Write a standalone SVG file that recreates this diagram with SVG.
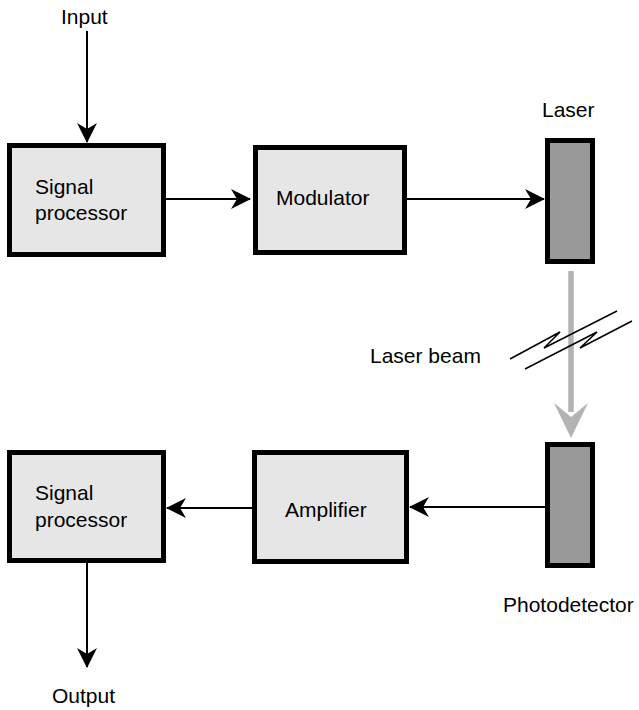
<svg xmlns="http://www.w3.org/2000/svg" width="639" height="710" viewBox="0 0 639 710">
<style>
.box{fill:#e6e6e6;stroke:#000;stroke-width:5}
.dev{fill:#999;stroke:#000;stroke-width:5}
.t{font-family:"Liberation Sans",Arial,sans-serif;font-size:21px;fill:#000}
.c{stroke:#000;stroke-width:2;fill:none}
.brk{stroke:#000;stroke-width:1.5;fill:none;stroke-linejoin:miter}
</style>
<defs>
<marker id="ah" viewBox="0 0 20 20" refX="19" refY="10" markerWidth="20" markerHeight="20" markerUnits="userSpaceOnUse" orient="auto">
<path d="M0,0 L20,10 L0,20 L6,10 Z" fill="#000"/>
</marker>
</defs>
<rect width="639" height="710" fill="#fff"/>
<g id="connectors">
<line class="c" x1="87" y1="31" x2="87" y2="142" marker-end="url(#ah)"/>
<line class="c" x1="166" y1="199" x2="250" y2="199" marker-end="url(#ah)"/>
<line class="c" x1="407" y1="199" x2="544" y2="199" marker-end="url(#ah)"/>
<line class="c" x1="545" y1="507" x2="410" y2="507" marker-end="url(#ah)"/>
<line class="c" x1="253" y1="508" x2="167" y2="508" marker-end="url(#ah)"/>
<line class="c" x1="87" y1="563" x2="87" y2="667" marker-end="url(#ah)"/>
<g id="laser-beam">
<line x1="571" y1="271" x2="571" y2="412" stroke="#b3b3b3" stroke-width="5.5"/>
<polygon points="571,438 554,403 571,417 588,403" fill="#b3b3b3"/>
<polyline class="brk" points="510,359 560,332 544,348 617,311"/>
<polyline class="brk" points="525,369 597,332 580,348 632,321"/>
</g>
</g>
<g id="input"><text class="t" x="61" y="24">Input</text></g>
<g id="signal-processor-1">
<rect class="box" x="9.5" y="145.5" width="154" height="109"/>
<text class="t" x="35" y="194">Signal</text>
<text class="t" x="35" y="220">processor</text>
</g>
<g id="modulator">
<rect class="box" x="255.5" y="147.5" width="149" height="105"/>
<text class="t" x="276" y="205">Modulator</text>
</g>
<g id="laser">
<rect class="dev" x="547.5" y="140.5" width="45" height="121"/>
<text class="t" x="542" y="117">Laser</text>
</g>
<g id="laser-beam-label"><text class="t" x="370" y="363">Laser beam</text></g>
<g id="photodetector">
<rect class="dev" x="547.5" y="444.5" width="45" height="121"/>
<text class="t" x="503" y="612">Photodetector</text>
</g>
<g id="amplifier">
<rect class="box" x="254.5" y="452.5" width="152" height="109"/>
<text class="t" x="285" y="517">Amplifier</text>
</g>
<g id="signal-processor-2">
<rect class="box" x="9.5" y="452.5" width="154" height="108"/>
<text class="t" x="35" y="500">Signal</text>
<text class="t" x="35" y="527">processor</text>
</g>
<g id="output"><text class="t" x="52" y="703">Output</text></g>
</svg>
